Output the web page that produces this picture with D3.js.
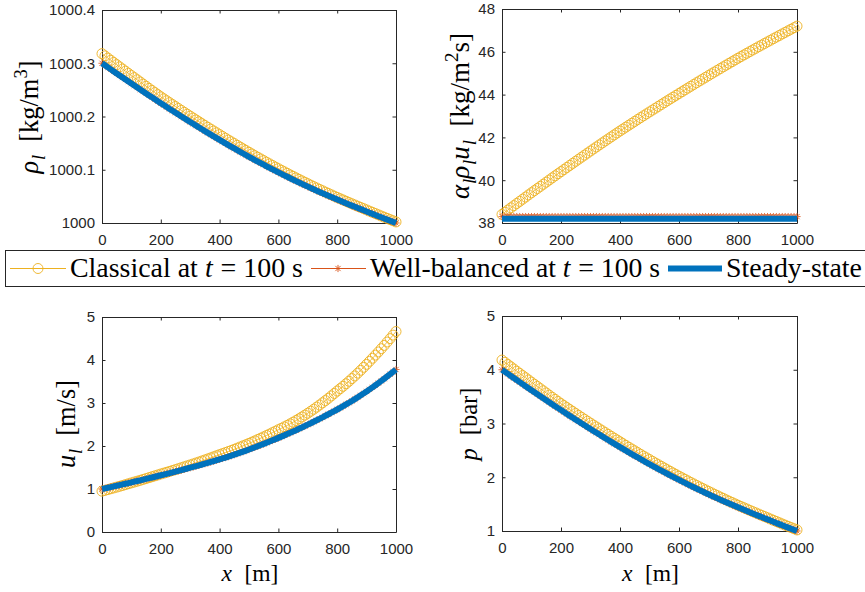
<!DOCTYPE html>
<html><head><meta charset="utf-8">
<script src="https://cdn.jsdelivr.net/npm/d3@7/dist/d3.min.js"></script>
</head><body style="margin:0">
<svg id="c" width="865" height="592"></svg>
<script>
// ---------------- data ----------------
const xGrid = d3.range(0, 1001, 10); // grid positions in m
const xTicks = [0, 200, 400, 600, 800, 1000];
const xTickLabels = ["0", "200", "400", "600", "800", "1000"];

const rhoTicks = [1000, 1000.1, 1000.2, 1000.3, 1000.4];
const rhoTickLabels = ["1000", "1000.1", "1000.2", "1000.3", "1000.4"];
const fluxTicks = [38, 40, 42, 44, 46, 48];
const fluxTickLabels = ["38", "40", "42", "44", "46", "48"];
const uTicks = [0, 1, 2, 3, 4, 5];
const uTickLabels = ["0", "1", "2", "3", "4", "5"];
const pTicks = [1, 2, 3, 4, 5];
const pTickLabels = ["1", "2", "3", "4", "5"];

const steadyRho = [1000.3000,1000.29615,1000.2923,1000.28845,1000.2846,1000.2808,1000.2770,1000.27325,1000.2695,1000.2657,1000.2619,1000.2582,1000.2545,1000.25075,1000.2470,1000.2433,1000.2396,1000.23595,1000.2323,1000.22865,1000.2250,
 1000.2214,1000.2178,1000.21425,1000.2107,1000.20715,1000.2036,1000.2001,1000.1966,1000.19315,1000.1897,1000.18625,1000.1828,1000.1794,1000.1760,1000.17265,1000.1693,1000.16595,1000.1626,1000.1593,1000.1560,
 1000.15275,1000.1495,1000.1463,1000.1431,1000.13995,1000.1368,1000.13365,1000.1305,1000.12745,1000.1244,1000.12135,1000.1183,1000.11535,1000.1124,1000.10945,1000.1065,1000.1036,1000.1007,1000.09785,1000.0950,
 1000.09225,1000.0895,1000.08675,1000.0840,1000.08135,1000.0787,1000.07605,1000.0734,1000.07085,1000.0683,1000.06575,1000.0632,1000.06075,1000.0583,1000.05585,1000.0534,1000.05105,1000.0487,1000.04635,1000.0440,
 1000.04175,1000.0395,1000.0372,1000.0349,1000.03265,1000.0304,1000.0282,1000.0260,1000.0238,1000.0216,1000.0194,1000.0172,1000.0150,1000.0128,1000.01065,1000.0085,1000.00635,1000.0042,1000.0021,1000.0000];
const classicalRho = [1000.3180,1000.31385,1000.3097,1000.30555,1000.3014,1000.2973,1000.2932,1000.28915,1000.2851,1000.2810,1000.2769,1000.2729,1000.2689,1000.26485,1000.2608,1000.2568,1000.2528,1000.24885,1000.2449,1000.24095,1000.2370,
 1000.2333,1000.2296,1000.22595,1000.2223,1000.21865,1000.2150,1000.2114,1000.2078,1000.20425,1000.2007,1000.19715,1000.1936,1000.1901,1000.1866,1000.18315,1000.1797,1000.17625,1000.1728,1000.1694,1000.1660,
 1000.1626,1000.1592,1000.15585,1000.1525,1000.1492,1000.1459,1000.1426,1000.1393,1000.1361,1000.1329,1000.1297,1000.1265,1000.1234,1000.1203,1000.1172,1000.1141,1000.11105,1000.1080,1000.1050,1000.1020,
 1000.0991,1000.0962,1000.0933,1000.0904,1000.0876,1000.0848,1000.0820,1000.0792,1000.0765,1000.0738,1000.0711,1000.0684,1000.0658,1000.0632,1000.0606,1000.0580,1000.0555,1000.0530,1000.0505,1000.0480,
 1000.04565,1000.0433,1000.0409,1000.0385,1000.03615,1000.0338,1000.0315,1000.0292,1000.0269,1000.0246,1000.0223,1000.0200,1000.0177,1000.0154,1000.01315,1000.0109,1000.00865,1000.0064,1000.0042,1000.0020];
const wbRho = steadyRho; // the well-balanced result lies on the steady state

const classicalFlux = [38.400,38.503,38.605,38.707,38.809,38.911,39.012,39.113,39.213,39.314,39.414,39.514,39.613,39.712,39.811,39.910,40.009,40.107,40.205,40.303,40.400,
 40.498,40.595,40.692,40.789,40.886,40.982,41.078,41.173,41.269,41.364,41.459,41.553,41.648,41.742,41.836,41.929,42.022,42.115,42.208,42.300,
 42.390,42.480,42.570,42.659,42.748,42.837,42.925,43.013,43.101,43.189,43.276,43.363,43.450,43.537,43.623,43.709,43.795,43.880,43.965,44.050,
 44.135,44.220,44.305,44.389,44.473,44.557,44.641,44.724,44.807,44.889,44.972,45.054,45.136,45.217,45.298,45.379,45.460,45.540,45.620,45.700,
 45.778,45.855,45.932,46.009,46.086,46.162,46.238,46.313,46.389,46.464,46.539,46.613,46.688,46.762,46.836,46.909,46.982,47.055,47.128,47.200];
const wbFlux = [38.3,38.3,38.3,38.3,38.3,38.3,38.3,38.3,38.3,38.3,38.3,38.3,38.3,38.3,38.3,38.3,38.3,38.3,38.3,38.3,38.3,
 38.3,38.3,38.3,38.3,38.3,38.3,38.3,38.3,38.3,38.3,38.3,38.3,38.3,38.3,38.3,38.3,38.3,38.3,38.3,38.3,
 38.3,38.3,38.3,38.3,38.3,38.3,38.3,38.3,38.3,38.3,38.3,38.3,38.3,38.3,38.3,38.3,38.3,38.3,38.3,38.3,
 38.3,38.3,38.3,38.3,38.3,38.3,38.3,38.3,38.3,38.3,38.3,38.3,38.3,38.3,38.3,38.3,38.3,38.3,38.3,38.3,
 38.3,38.3,38.3,38.3,38.3,38.3,38.3,38.3,38.3,38.3,38.3,38.3,38.3,38.3,38.3,38.3,38.3,38.3,38.3,38.3];
const steadyFlux = [38.2,38.2,38.2,38.2,38.2,38.2,38.2,38.2,38.2,38.2,38.2,38.2,38.2,38.2,38.2,38.2,38.2,38.2,38.2,38.2,38.2,
 38.2,38.2,38.2,38.2,38.2,38.2,38.2,38.2,38.2,38.2,38.2,38.2,38.2,38.2,38.2,38.2,38.2,38.2,38.2,38.2,
 38.2,38.2,38.2,38.2,38.2,38.2,38.2,38.2,38.2,38.2,38.2,38.2,38.2,38.2,38.2,38.2,38.2,38.2,38.2,38.2,
 38.2,38.2,38.2,38.2,38.2,38.2,38.2,38.2,38.2,38.2,38.2,38.2,38.2,38.2,38.2,38.2,38.2,38.2,38.2,38.2,
 38.2,38.2,38.2,38.2,38.2,38.2,38.2,38.2,38.2,38.2,38.2,38.2,38.2,38.2,38.2,38.2,38.2,38.2,38.2,38.2];

const steadyU = [1.000,1.015,1.030,1.045,1.060,1.075,1.091,1.106,1.122,1.138,1.154,1.170,1.186,1.202,1.218,1.234,1.251,1.268,1.285,1.302,1.319,
 1.336,1.353,1.370,1.388,1.405,1.423,1.441,1.459,1.477,1.495,1.513,1.532,1.551,1.570,1.589,1.609,1.629,1.649,1.669,1.689,
 1.710,1.732,1.754,1.777,1.800,1.823,1.846,1.870,1.894,1.919,1.944,1.970,1.996,2.023,2.050,2.077,2.104,2.132,2.160,2.189,
 2.218,2.247,2.277,2.307,2.337,2.368,2.400,2.432,2.464,2.497,2.530,2.564,2.598,2.632,2.667,2.703,2.739,2.775,2.812,2.849,
 2.887,2.926,2.966,3.006,3.048,3.091,3.134,3.178,3.224,3.270,3.317,3.364,3.413,3.463,3.513,3.564,3.617,3.670,3.724,3.779];
const classicalU = [0.950,0.968,0.987,1.006,1.025,1.044,1.063,1.082,1.102,1.122,1.142,1.162,1.182,1.202,1.223,1.243,1.264,1.285,1.306,1.327,1.349,
 1.369,1.389,1.409,1.430,1.451,1.472,1.494,1.516,1.538,1.560,1.582,1.605,1.628,1.652,1.676,1.700,1.724,1.749,1.774,1.799,
 1.823,1.847,1.872,1.897,1.923,1.950,1.977,2.004,2.032,2.061,2.090,2.120,2.151,2.182,2.213,2.245,2.278,2.311,2.345,2.379,
 2.412,2.445,2.480,2.516,2.554,2.593,2.633,2.675,2.718,2.762,2.808,2.855,2.904,2.953,3.004,3.056,3.110,3.165,3.222,3.279,
 3.334,3.389,3.447,3.506,3.568,3.630,3.695,3.761,3.830,3.899,3.970,4.041,4.114,4.187,4.263,4.339,4.418,4.497,4.579,4.662];
const wbU = steadyU;

const steadyP = [4.000,3.961,3.923,3.884,3.846,3.808,3.770,3.732,3.695,3.657,3.619,3.582,3.545,3.507,3.470,3.433,3.396,3.359,3.323,3.286,3.250,
 3.214,3.178,3.142,3.107,3.071,3.036,3.001,2.966,2.931,2.897,2.862,2.828,2.794,2.760,2.726,2.693,2.659,2.626,2.593,2.560,
 2.527,2.495,2.463,2.431,2.399,2.368,2.336,2.305,2.274,2.244,2.213,2.183,2.153,2.124,2.094,2.065,2.036,2.007,1.978,1.950,
 1.922,1.895,1.867,1.840,1.813,1.787,1.760,1.734,1.708,1.683,1.657,1.632,1.607,1.583,1.558,1.534,1.510,1.487,1.463,1.440,
 1.417,1.395,1.372,1.349,1.326,1.304,1.282,1.260,1.238,1.216,1.194,1.172,1.150,1.128,1.106,1.085,1.063,1.042,1.021,1.000];
const classicalP = [4.180,4.138,4.097,4.055,4.014,3.973,3.932,3.891,3.851,3.810,3.769,3.729,3.689,3.648,3.608,3.568,3.528,3.488,3.449,3.409,3.370,
 3.333,3.296,3.259,3.223,3.186,3.150,3.114,3.078,3.042,3.007,2.971,2.936,2.901,2.866,2.831,2.797,2.762,2.728,2.694,2.660,
 2.626,2.592,2.558,2.525,2.492,2.459,2.426,2.393,2.361,2.329,2.297,2.265,2.234,2.203,2.172,2.141,2.110,2.080,2.050,2.020,
 1.991,1.962,1.933,1.904,1.876,1.848,1.820,1.792,1.765,1.738,1.711,1.684,1.658,1.632,1.606,1.580,1.555,1.530,1.505,1.480,
 1.456,1.433,1.409,1.385,1.361,1.338,1.315,1.292,1.269,1.246,1.223,1.200,1.177,1.154,1.131,1.109,1.086,1.064,1.042,1.020];
const wbP = steadyP;

const seriesNames = ["Classical at ", "Well-balanced at ", "Steady-state"];

// ---------------- styles ----------------
const C_CLASS = "#EDB120", C_WB = "#D95319", C_STEADY = "#0072BD", C_AX = "#262626";
const svg = d3.select("#c");

// each part of a math label is its own <text> (no tspans), laid out side by side
function mathText(parent, parts, o) {
  const size = o.size;
  const outer = parent.append("g");
  const inner = outer.append("g");
  let cx = 0;
  parts.forEach(p => {
    const small = p.sub || p.sup;
    const fs = small ? size * 0.7 : size;
    const dy = p.sub ? 0.25 * size : p.sup ? -0.4 * size : 0;
    const t = inner.append("text")
      .attr("x", cx).attr("y", dy)
      .style("font-family", "Liberation Serif").style("font-size", fs + "px")
      .style("font-style", p.i ? "italic" : "normal")
      .style("white-space", "pre").attr("xml:space", "preserve")
      .attr("fill", "#000")
      .text(p.t);
    const w = t.node().getComputedTextLength();
    cx += w + (p.i && !small ? size * 0.03 : 0);
  });
  const total = cx;
  const s = total > 0 ? o.len / total : 1;
  const off = (o.anchor === "start") ? 0 : -total / 2;
  inner.attr("transform", `translate(${off},0)`);
  outer.attr("transform", `translate(${o.x},${o.y})` + (o.rot ? " rotate(-90)" : "") + ` scale(${s})`);
  return outer;
}

const starPath = "M-3.6,0H3.6M0,-3.6V3.6M-2.6,-2.6L2.6,2.6M-2.6,2.6L2.6,-2.6";

const panels = [
  { l: 102, r: 396, t: 10, b: 223, dom: [1000, 1000.4], ticks: rhoTicks, labels: rhoTickLabels,
    cl: classicalRho, wb: wbRho, st: steadyRho, xlab: false,
    yl: [{t:"\u03C1", i:true},{t:"l", i:true, sub:true},{t:"  [kg/m"},{t:"3", sup:true},{t:"]"}],
    ylx: 38, yly: 117, yll: 113, yls: 25 },
  { l: 502, r: 797, t: 9, b: 223, dom: [38, 48], ticks: fluxTicks, labels: fluxTickLabels,
    cl: classicalFlux, wb: wbFlux, st: steadyFlux, xlab: false,
    yl: [{t:"\u03B1", i:true},{t:"l", i:true, sub:true},{t:"\u03C1", i:true},{t:"l", i:true, sub:true},{t:"u", i:true},{t:"l", i:true, sub:true},{t:"  [kg/m"},{t:"2", sup:true},{t:"s]"}],
    ylx: 469, yly: 116, yll: 166, yls: 26 },
  { l: 102, r: 396, t: 317, b: 532, dom: [0, 5], ticks: uTicks, labels: uTickLabels,
    cl: classicalU, wb: wbU, st: steadyU, xlab: true,
    yl: [{t:"u", i:true},{t:"l", i:true, sub:true},{t:"  [m/s]"}],
    ylx: 75, yly: 424, yll: 88, yls: 26 },
  { l: 502, r: 797, t: 316, b: 531, dom: [1, 5], ticks: pTicks, labels: pTickLabels,
    cl: classicalP, wb: wbP, st: steadyP, xlab: true,
    yl: [{t:"p", i:true},{t:"  [bar]"}],
    ylx: 477, yly: 424, yll: 73, yls: 26 }
];

panels.forEach(P => {
  const x = d3.scaleLinear().domain([0, 1000]).range([P.l, P.r]);
  const y = d3.scaleLinear().domain(P.dom).range([P.b, P.t]);
  const g = svg.append("g");
  g.append("rect").attr("x", P.l).attr("y", P.t).attr("width", P.r - P.l).attr("height", P.b - P.t).attr("fill", "#fff");

  const styleAxis = sel => {
    sel.attr("font-family", "Liberation Sans").attr("font-size", 15);
    sel.selectAll("path.domain").attr("stroke", C_AX).attr("stroke-width", 1);
    sel.selectAll(".tick line").attr("stroke", C_AX).attr("stroke-width", 1);
    sel.selectAll(".tick text").attr("fill", C_AX)
      .style("font-family", "Liberation Sans").style("font-size", "15px");
  };
  g.append("g").attr("transform", `translate(0,${P.b})`)
    .call(d3.axisBottom(x).tickValues(xTicks).tickFormat((d, i) => xTickLabels[i]).tickSize(-3.5).tickSizeOuter(0).tickPadding(11))
    .call(styleAxis);
  g.append("g").attr("transform", `translate(0,${P.t})`)
    .call(d3.axisTop(x).tickValues(xTicks).tickFormat("").tickSize(-3.5).tickSizeOuter(0))
    .call(styleAxis);
  g.append("g").attr("transform", `translate(${P.l},0)`)
    .call(d3.axisLeft(y).tickValues(P.ticks).tickFormat((d, i) => P.labels[i]).tickSize(-3.5).tickSizeOuter(0).tickPadding(7))
    .call(styleAxis);
  g.append("g").attr("transform", `translate(${P.r},0)`)
    .call(d3.axisRight(y).tickValues(P.ticks).tickFormat("").tickSize(-3.5).tickSizeOuter(0))
    .call(styleAxis);

  const line = d3.line().x((d, i) => x(xGrid[i])).y(d => y(d));
  g.append("path").attr("d", line(P.cl)).attr("fill", "none").attr("stroke", C_CLASS).attr("stroke-width", 0.8);
  g.append("g").selectAll("circle").data(P.cl).join("circle")
    .attr("cx", (d, i) => x(xGrid[i])).attr("cy", d => y(d)).attr("r", 5)
    .attr("fill", "none").attr("stroke", C_CLASS).attr("stroke-width", 0.9);
  g.append("path").attr("d", line(P.wb)).attr("fill", "none").attr("stroke", C_WB).attr("stroke-width", 0.8);
  g.append("g").selectAll("path").data(P.wb).join("path")
    .attr("d", starPath).attr("transform", (d, i) => `translate(${x(xGrid[i])},${y(d)})`)
    .attr("fill", "none").attr("stroke", C_WB).attr("stroke-width", 0.8);
  g.append("path").attr("d", line(P.st)).attr("fill", "none").attr("stroke", C_STEADY).attr("stroke-width", 6);

  mathText(g, P.yl, { x: P.ylx, y: P.yly, len: P.yll, size: P.yls, rot: true });
  if (P.xlab) {
    mathText(g, [{t:"x", i:true},{t:"  [m]"}], { x: (P.l + P.r) / 2 + 1, y: 581, len: 57, size: 25 });
  }
});

// ---------------- legend ----------------
const lg = svg.append("g");
lg.append("rect").attr("x", 5.5).attr("y", 250.5).attr("width", 865).attr("height", 36)
  .attr("fill", "#fff").attr("stroke", C_AX).attr("stroke-width", 1);
const ly = 268.5;
lg.append("line").attr("x1", 10).attr("x2", 66).attr("y1", ly).attr("y2", ly).attr("stroke", C_CLASS).attr("stroke-width", 1);
lg.append("circle").attr("cx", 38).attr("cy", ly).attr("r", 5).attr("fill", "none").attr("stroke", C_CLASS).attr("stroke-width", 0.9);
mathText(lg, [{t: seriesNames[0]}, {t:"t", i:true}, {t:" = 100 s"}], { x: 70, y: 277, len: 233, size: 27.5, anchor: "start" });
lg.append("line").attr("x1", 311).attr("x2", 366).attr("y1", ly).attr("y2", ly).attr("stroke", C_WB).attr("stroke-width", 1);
lg.append("path").attr("d", starPath).attr("transform", `translate(338,${ly})`).attr("fill", "none").attr("stroke", C_WB).attr("stroke-width", 0.9);
mathText(lg, [{t: seriesNames[1]}, {t:"t", i:true}, {t:" = 100 s"}], { x: 370, y: 277, len: 290, size: 27.5, anchor: "start" });
lg.append("line").attr("x1", 668).attr("x2", 722).attr("y1", ly).attr("y2", ly).attr("stroke", C_STEADY).attr("stroke-width", 6);
mathText(lg, [{t: seriesNames[2]}], { x: 726, y: 277, len: 136, size: 27.5, anchor: "start" });
</script>
</body></html>
